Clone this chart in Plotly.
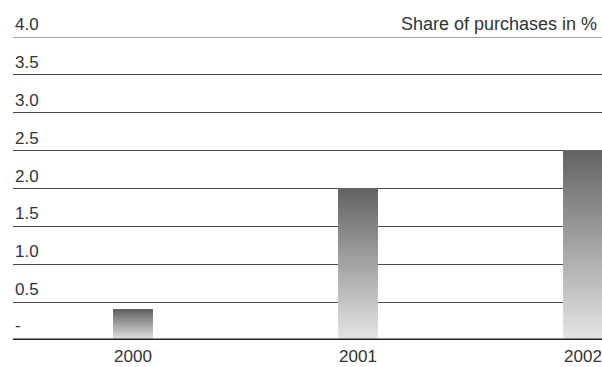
import plotly.graph_objects as go

# Share of purchases by year
years = ["2000", "2001", "2002"]
shares = [0.4, 2.0, 2.5]

# Y-axis labels drawn above each gridline
tick_values = [0, 0.5, 1.0, 1.5, 2.0, 2.5, 3.0, 3.5, 4.0]
tick_labels = ["-", "0.5", "1.0", "1.5", "2.0", "2.5", "3.0", "3.5", "4.0"]

TOP_GREY = (100, 100, 102)
BOTTOM_GREY = (228, 228, 230)
N_SLICES = 60
BAR_WIDTH = 0.173
FONT = "Liberation Sans, Arial, sans-serif"
FONT_SIZE = 17
TEXT_COLOR = "#333333"

fig = go.Figure()

# Each bar is layered from bottom-up slices that all reach the bar top,
# so each higher (darker) slice covers the one below: a vertical grey gradient
for i, (yr, val) in enumerate(zip(years, shares)):
    step = val / N_SLICES
    bases, heights, colors = [], [], []
    for k in range(N_SLICES):
        t = k / (N_SLICES - 1)  # 0 at bottom, 1 at top
        r = round(BOTTOM_GREY[0] + (TOP_GREY[0] - BOTTOM_GREY[0]) * t)
        g = round(BOTTOM_GREY[1] + (TOP_GREY[1] - BOTTOM_GREY[1]) * t)
        b = round(BOTTOM_GREY[2] + (TOP_GREY[2] - BOTTOM_GREY[2]) * t)
        bases.append(k * step)
        heights.append(val - k * step)
        colors.append(f"rgb({r},{g},{b})")
    fig.add_trace(go.Bar(
        x=[i] * N_SLICES,
        y=heights,
        base=bases,
        width=BAR_WIDTH,
        marker=dict(color=colors, line=dict(width=0)),
        showlegend=False,
        hoverinfo="skip",
    ))

fig.update_layout(
    width=602,
    height=367,
    margin=dict(l=13, r=0, t=37, b=27, autoexpand=False),
    paper_bgcolor="white",
    plot_bgcolor="white",
    barmode="overlay",
    font=dict(family=FONT, size=FONT_SIZE, color=TEXT_COLOR),
    xaxis=dict(
        range=[-0.5333, 2.0844],
        tickmode="array",
        tickvals=list(range(len(years))),
        ticktext=years,
        showgrid=False,
        zeroline=False,
        showline=False,
        ticks="",
        ticklabelstandoff=4,
        automargin=False,
        tickfont=dict(family=FONT, size=FONT_SIZE, color=TEXT_COLOR),
        fixedrange=True,
    ),
    yaxis=dict(
        range=[0, 4.0],
        tickmode="array",
        tickvals=tick_values,
        showticklabels=False,
        showgrid=True,
        gridcolor="#4a4a4a",
        gridwidth=1,
        zeroline=False,
        showline=False,
        fixedrange=True,
    ),
)

# Thick baseline at zero
fig.add_shape(type="line", xref="paper", yref="y", x0=0, x1=1, y0=0, y1=0,
              line=dict(color="#222222", width=3), layer="above")

# Top gridline at 4.0
fig.add_shape(type="line", xref="paper", yref="y", x0=0, x1=1, y0=4.0, y1=4.0,
              line=dict(color="#4a4a4a", width=1), layer="above")

for v, lab in zip(tick_values, tick_labels):
    fig.add_annotation(
        x=0, xref="paper", y=v, yref="y",
        text=lab, showarrow=False,
        xanchor="left", yanchor="bottom", yshift=1 if v > 0 else 3,
        font=dict(family=FONT, size=FONT_SIZE, color=TEXT_COLOR),
    )

fig.add_annotation(
    x=0.995, xref="paper", y=4.0, yref="y",
    text="Share of purchases in %", showarrow=False,
    xanchor="right", yanchor="bottom", yshift=1,
    font=dict(family=FONT, size=18, color=TEXT_COLOR),
)

fig.write_html("out.html")
